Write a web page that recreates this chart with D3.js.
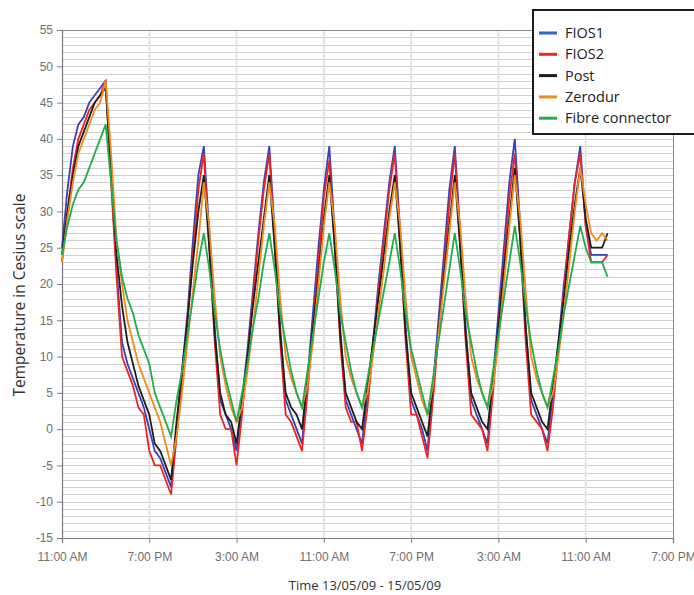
<!DOCTYPE html>
<html>
<head>
<meta charset="utf-8">
<script src="https://cdn.jsdelivr.net/npm/d3@7"></script>
<style>
  body { margin: 0; background: #ffffff; }
  svg { display: block; }
</style>
</head>
<body>
<svg id="chart" width="694" height="595"></svg>
<script>
// Temperature log, one reading every 30 minutes from 13/05/09 11:00 AM
const logStart = new Date(2009, 4, 13, 11, 0);
const logStepMinutes = 30;

const seriesNames = ["FIOS1", "FIOS2", "Post", "Zerodur", "Fibre connector"];
const seriesColors = ["#3a40b8", "#e8262a", "#1e1e1e", "#f28a1e", "#1fae4e"];
const legendColors = ["#2f66c8", "#e8262a", "#1e1e1e", "#f28a1e", "#1fae4e"];

const fios1 = [
  25, 33, 39, 42, 43, 45, 46, 47, 48,
  35, 22, 12, 9, 7, 5, 3, 0, -3, -4, -6, -8,
  0, 8, 16, 26, 35, 39,
  27, 14, 4, 2, 0, -3,
  4, 11, 19, 27, 34, 39,
  27, 14, 4, 2, 0, -2,
  7, 16, 25, 33, 39,
  27, 14, 4, 2, 0, -2,
  5, 12, 20, 27, 34, 39,
  27, 14, 4, 2, 0, -3,
  6, 15, 24, 33, 39,
  27, 14, 4, 2, 0, -2,
  7, 16, 25, 34, 40,
  28, 14, 4, 2, 0, -2,
  5, 12, 20, 27, 34, 39,
  28, 24, 24, 24, 24
];

const fios2 = [
  23, 30, 36, 40, 42, 44, 45, 46, 48,
  34, 21, 10, 8, 6, 3, 2, -3, -5, -5, -7, -9,
  -1, 7, 15, 24, 33, 38,
  25, 12, 2, 0, 0, -5,
  2, 10, 18, 26, 33, 38,
  25, 12, 2, 1, -1, -3,
  5, 14, 23, 32, 37,
  25, 12, 3, 1, 1, -3,
  3, 11, 19, 26, 33, 38,
  25, 12, 2, 2, -1, -4,
  4, 13, 22, 31, 38,
  25, 12, 2, 1, 0, -3,
  5, 14, 23, 32, 38,
  26, 12, 2, 1, 0, -3,
  3, 11, 19, 27, 34, 38,
  28, 23, 23, 23, 24
];

const post = [
  24, 30, 35, 39, 41, 43, 45, 46, 47,
  36, 24, 17, 12, 9, 6, 4, 2, -2, -3, -5, -7,
  1, 8, 15, 23, 30, 35,
  25, 13, 5, 2, 1, -2,
  4, 10, 17, 23, 29, 35,
  25, 13, 5, 3, 2, 0,
  7, 14, 21, 29, 35,
  25, 13, 5, 3, 1, 0,
  6, 12, 18, 24, 30, 35,
  25, 13, 5, 3, 1, -1,
  6, 13, 21, 28, 35,
  25, 13, 5, 3, 1, 0,
  7, 14, 22, 29, 36,
  26, 14, 5, 3, 1, 0,
  6, 12, 18, 25, 31, 36,
  29, 25, 25, 25, 27
];

const zerodur = [
  23, 29, 34, 38, 40, 42, 44, 45, 48,
  38, 26, 20, 15, 12, 9, 7, 5, 3, 1, -2, -5,
  -1, 5, 12, 19, 26, 34,
  28, 18, 10, 6, 3, 1,
  3, 8, 14, 21, 28, 34,
  28, 18, 10, 7, 5, 3,
  6, 12, 20, 28, 34,
  28, 18, 10, 7, 5, 3,
  5, 10, 16, 22, 29, 34,
  28, 18, 10, 7, 4, 2,
  6, 13, 20, 27, 34,
  28, 18, 10, 7, 5, 3,
  6, 12, 20, 28, 35,
  29, 19, 10, 7, 5, 3,
  5, 10, 16, 23, 30, 36,
  31, 27, 26, 27, 26
];

const fibreConnector = [
  24, 28, 31, 33, 34, 36, 38, 40, 42,
  34, 26, 21, 18, 16, 13, 11, 9, 5, 3, 1, -1,
  4, 8, 13, 18, 23, 27,
  22, 16, 11, 7, 4, 1,
  5, 9, 14, 18, 23, 27,
  22, 16, 12, 8, 5, 3,
  8, 13, 18, 23, 27,
  22, 16, 12, 8, 5, 3,
  7, 11, 15, 19, 23, 27,
  22, 16, 11, 8, 5, 2,
  7, 12, 17, 22, 27,
  22, 16, 12, 8, 5, 3,
  8, 13, 18, 23, 28,
  23, 17, 12, 8, 5, 3,
  7, 11, 16, 20, 24, 28,
  25, 23, 23, 23, 21
];

const seriesValues = [fios1, fios2, post, zerodur, fibreConnector];

const yTickValues = [-15, -10, -5, 0, 5, 10, 15, 20, 25, 30, 35, 40, 45, 50, 55];
const xTickTimes = [
  new Date(2009, 4, 13, 11, 0),
  new Date(2009, 4, 13, 19, 0),
  new Date(2009, 4, 14, 3, 0),
  new Date(2009, 4, 14, 11, 0),
  new Date(2009, 4, 14, 19, 0),
  new Date(2009, 4, 15, 3, 0),
  new Date(2009, 4, 15, 11, 0),
  new Date(2009, 4, 15, 19, 0)
];

// ---- layout ----
const svg = d3.select("#chart");
const plot = { left: 62, right: 673, top: 30, bottom: 538 };

const x = d3.scaleTime()
  .domain([xTickTimes[0], xTickTimes[xTickTimes.length - 1]])
  .range([plot.left, plot.right]);

const y = d3.scaleLinear()
  .domain([-15, 55])
  .range([plot.bottom, plot.top]);

const timeOf = i => d3.timeMinute.offset(logStart, i * logStepMinutes);

// plot background
svg.append("rect")
  .attr("x", plot.left).attr("y", plot.top)
  .attr("width", plot.right - plot.left).attr("height", plot.bottom - plot.top)
  .attr("fill", "#ffffff");

// horizontal grid, one line per degree
const grid = svg.append("g").attr("class", "grid");
grid.selectAll("line.h")
  .data(d3.range(-14, 55))
  .join("line")
  .attr("class", "h")
  .attr("x1", plot.left).attr("x2", plot.right)
  .attr("y1", d => Math.round(y(d)) + 0.5)
  .attr("y2", d => Math.round(y(d)) + 0.5)
  .attr("stroke", "#cfcfcf")
  .attr("stroke-width", 1);

// vertical grid at each time tick
grid.selectAll("line.v")
  .data(xTickTimes.slice(1, -1))
  .join("line")
  .attr("class", "v")
  .attr("x1", d => x(d)).attr("x2", d => x(d))
  .attr("y1", plot.top).attr("y2", plot.bottom)
  .attr("stroke", "#e2e2e2")
  .attr("stroke-width", 2);

// plot frame (top and right edges)
svg.append("path")
  .attr("d", `M${plot.left},${plot.top + 0.5}H${plot.right + 0.5}V${plot.bottom}`)
  .attr("fill", "none")
  .attr("stroke", "#8a8a8a")
  .attr("stroke-width", 1);

// ---- axes ----
const axisFont = "'Liberation Sans Narrow', 'Liberation Sans', Arial, sans-serif";

const yAxis = svg.append("g")
  .attr("transform", `translate(${plot.left},0)`)
  .call(d3.axisLeft(y).tickValues(yTickValues).tickSize(5).tickPadding(4)
    .tickFormat(d => String(d)));

const xAxis = svg.append("g")
  .attr("transform", `translate(0,${plot.bottom})`)
  .call(d3.axisBottom(x).tickValues(xTickTimes).tickSize(5).tickPadding(9)
    .tickFormat(d3.timeFormat("%-I:%M %p")));

[yAxis, xAxis].forEach(g => {
  g.select(".domain").attr("stroke", "#7a7a7a").attr("stroke-width", 1.2);
  g.selectAll(".tick line").attr("stroke", "#7a7a7a");
  g.selectAll(".tick text")
    .attr("fill", "#6f6f6f")
    .style("font-family", axisFont)
    .style("font-size", "12px");
});

// ---- series ----
const line = d3.line()
  .x((d, i) => x(timeOf(i)))
  .y(d => y(d))
  .curve(d3.curveLinear);

svg.append("g")
  .selectAll("path")
  .data(seriesValues)
  .join("path")
  .attr("d", d => line(d))
  .attr("fill", "none")
  .attr("stroke", (d, i) => seriesColors[i])
  .attr("stroke-width", 1.8)
  .attr("stroke-linejoin", "miter");

// ---- axis titles ----
const titleFont = "'Open Sans', 'Noto Sans', sans-serif";

svg.append("text")
  .attr("transform", "translate(25,295) rotate(-90)")
  .attr("text-anchor", "middle")
  .style("font-family", titleFont)
  .style("font-size", "15.5px")
  .attr("fill", "#333")
  .text("Temperature in Cesius scale");

svg.append("text")
  .attr("x", 365).attr("y", 590)
  .attr("text-anchor", "middle")
  .style("font-family", titleFont)
  .style("font-size", "13px")
  .attr("fill", "#333")
  .text("Time 13/05/09 - 15/05/09");

// ---- legend ----
const legend = svg.append("g");
legend.append("rect")
  .attr("x", 533).attr("y", 10)
  .attr("width", 170).attr("height", 124)
  .attr("fill", "#ffffff")
  .attr("stroke", "#1a1a1a")
  .attr("stroke-width", 2);

const legendRows = legend.selectAll("g.item")
  .data(seriesNames)
  .join("g")
  .attr("class", "item")
  .attr("transform", (d, i) => `translate(0,${33 + i * 21.3})`);

legendRows.append("line")
  .attr("x1", 539).attr("x2", 557)
  .attr("y1", 0).attr("y2", 0)
  .attr("stroke", (d, i) => legendColors[i])
  .attr("stroke-width", 3);

legendRows.append("text")
  .attr("x", 565).attr("y", 0)
  .attr("dy", "0.35em")
  .style("font-family", titleFont)
  .style("font-size", "14.5px")
  .attr("fill", "#222")
  .text(d => d);
</script>
</body>
</html>
